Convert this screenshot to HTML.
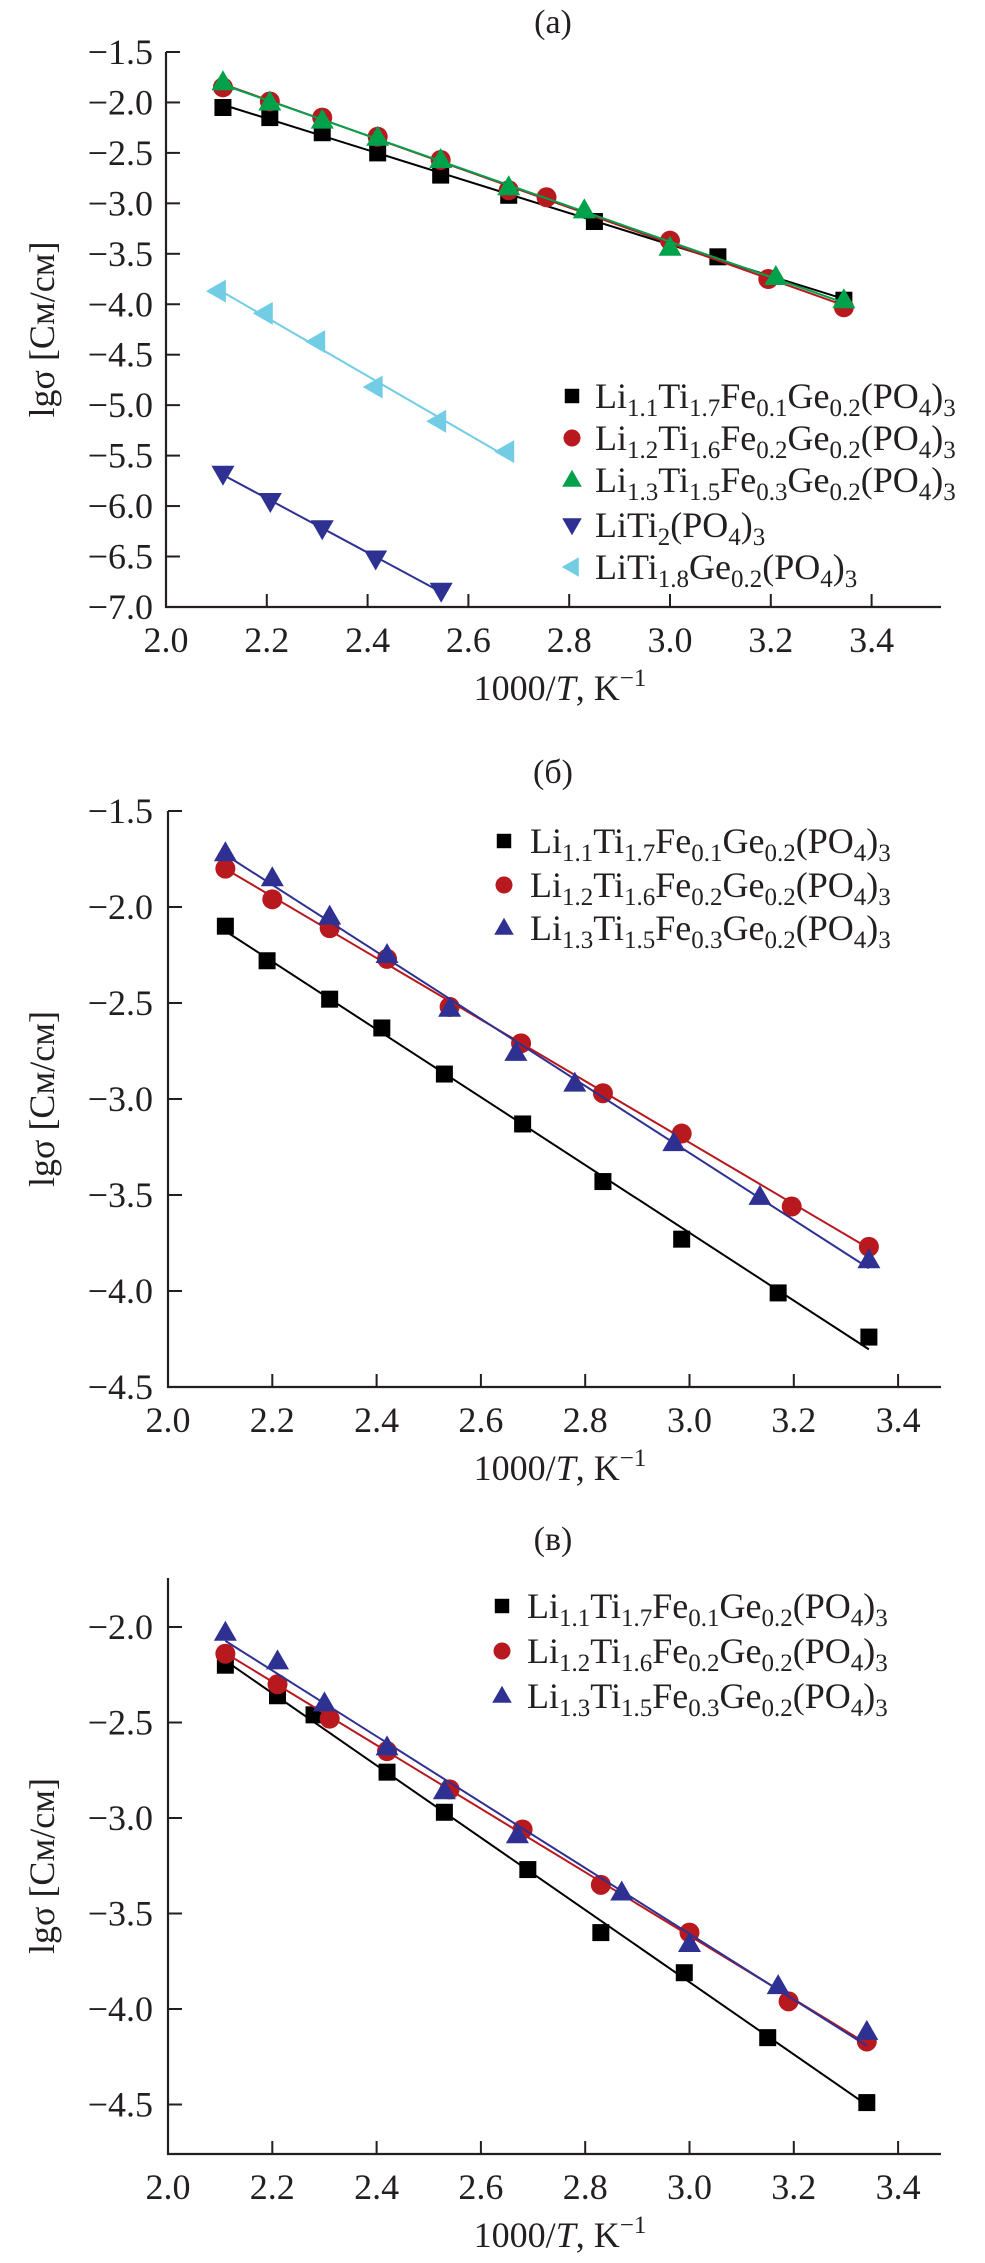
<!DOCTYPE html>
<html><head><meta charset="utf-8">
<style>
html,body{margin:0;padding:0;background:#fff;}
svg{display:block;}
text{font-family:"Liberation Serif",serif;fill:#231f20;}
</style></head>
<body>
<svg id="fig" width="985" height="2263" viewBox="0 0 985 2263" xmlns="http://www.w3.org/2000/svg"></svg>
<script>
// ---------- Panel (a) data ----------
const aBlackX = [2.113, 2.206, 2.31, 2.42, 2.545, 2.68, 2.85, 3.095, 3.345];
const aBlackY = [-2.05, -2.15, -2.30, -2.50, -2.72, -2.92, -3.18, -3.53, -3.96];
const aRedX = [2.113, 2.206, 2.31, 2.42, 2.545, 2.68, 2.755, 3.0, 3.195, 3.345];
const aRedY = [-1.85, -1.99, -2.15, -2.34, -2.57, -2.87, -2.94, -3.37, -3.75, -4.03];
const aGreenX = [2.113, 2.206, 2.31, 2.42, 2.545, 2.68, 2.83, 3.0, 3.21, 3.345];
const aGreenY = [-1.80, -2.00, -2.18, -2.35, -2.57, -2.84, -3.07, -3.44, -3.73, -3.96];
const aNavyX = [2.113, 2.207, 2.31, 2.416, 2.546];
const aNavyY = [-5.68, -5.95, -6.22, -6.52, -6.84];
const aCyanX = [2.103, 2.196, 2.30, 2.414, 2.54, 2.675];
const aCyanY = [-3.87, -4.09, -4.37, -4.82, -5.16, -5.46];
const aYTicks = [-1.5, -2.0, -2.5, -3.0, -3.5, -4.0, -4.5, -5.0, -5.5, -6.0, -6.5, -7.0];
// ---------- Panel (б) data ----------
const bBlackX = [2.11, 2.19, 2.31, 2.41, 2.53, 2.68, 2.834, 2.985, 3.17, 3.344];
const bBlackY = [-2.10, -2.28, -2.48, -2.63, -2.87, -3.13, -3.43, -3.73, -4.01, -4.24];
const bRedX = [2.11, 2.20, 2.31, 2.42, 2.54, 2.677, 2.834, 2.985, 3.196, 3.344];
const bRedY = [-1.80, -1.96, -2.11, -2.27, -2.52, -2.71, -2.97, -3.18, -3.56, -3.77];
const bBlueX = [2.11, 2.20, 2.31, 2.42, 2.54, 2.667, 2.78, 2.97, 3.135, 3.344];
const bBlueY = [-1.72, -1.85, -2.05, -2.25, -2.53, -2.76, -2.92, -3.23, -3.51, -3.84];
const bYTicks = [-1.5, -2.0, -2.5, -3.0, -3.5, -4.0, -4.5];
// ---------- Panel (в) data ----------
const cBlackX = [2.11, 2.21, 2.28, 2.42, 2.53, 2.69, 2.83, 2.99, 3.15, 3.34];
const cBlackY = [-2.20, -2.36, -2.46, -2.76, -2.97, -3.27, -3.60, -3.81, -4.15, -4.49];
const cRedX = [2.11, 2.21, 2.31, 2.42, 2.54, 2.68, 2.83, 3.0, 3.19, 3.34];
const cRedY = [-2.14, -2.30, -2.48, -2.65, -2.85, -3.06, -3.35, -3.60, -3.96, -4.17];
const cBlueX = [2.11, 2.21, 2.30, 2.42, 2.53, 2.67, 2.87, 3.0, 3.17, 3.34];
const cBlueY = [-2.03, -2.18, -2.40, -2.63, -2.86, -3.09, -3.39, -3.66, -3.88, -4.12];
const cYTicks = [-2.0, -2.5, -3.0, -3.5, -4.0, -4.5];
const xTicks = [2.0, 2.2, 2.4, 2.6, 2.8, 3.0, 3.2, 3.4];

const NS = "http://www.w3.org/2000/svg";
const svg = document.getElementById('fig');
function mk(tag, attrs, parent) {
  const e = document.createElementNS(NS, tag);
  for (const k in attrs) e.setAttribute(k, attrs[k]);
  (parent || svg).appendChild(e);
  return e;
}
const C = {black:'#000000', red:'#b8191f', green:'#00a14b', navy:'#2e3192', cyan:'#72cde4'};

function marker(g, shape, cx, cy, color, s) {
  s = s || 1;
  let e;
  if (shape === 'square') e = mk('rect', {x: cx-8.5*s, y: cy-8.5*s, width: 17*s, height: 17*s, fill: color}, g);
  else if (shape === 'circle') e = mk('circle', {cx: cx, cy: cy, r: 10*s, fill: color}, g);
  else if (shape === 'up') e = mk('polygon', {points: `${cx},${cy-12*s} ${cx+11.5*s},${cy+8*s} ${cx-11.5*s},${cy+8*s}`, fill: color}, g);
  else if (shape === 'down') e = mk('polygon', {points: `${cx},${cy+12*s} ${cx+11.5*s},${cy-8*s} ${cx-11.5*s},${cy-8*s}`, fill: color}, g);
  else if (shape === 'left') e = mk('polygon', {points: `${cx-12*s},${cy} ${cx+8*s},${cy-11.5*s} ${cx+8*s},${cy+11.5*s}`, fill: color}, g);
  return e;
}

function fit(xs, ys) {
  const n = xs.length; let sx=0, sy=0, sxx=0, sxy=0;
  for (let i=0;i<n;i++){sx+=xs[i];sy+=ys[i];sxx+=xs[i]*xs[i];sxy+=xs[i]*ys[i];}
  const b = (n*sxy - sx*sy)/(n*sxx - sx*sx);
  return {b: b, a: (sy - b*sx)/n};
}

function legendText(parent, x, y, parts) {
  const t = mk('text', {x: x, y: y, 'font-size': 36}, parent);
  parts.forEach(p => {
    const ts = mk('tspan', {}, t);
    if (p[1]) { ts.setAttribute('font-size', 25); ts.setAttribute('dy', 8); }
    else { ts.setAttribute('dy', p[2] || 0); }
    ts.textContent = p[0];
  });
  return t;
}
const LBL = {
  li11: [['Li'],['1.1',1],['Ti',0,-8],['1.7',1],['Fe',0,-8],['0.1',1],['Ge',0,-8],['0.2',1],['(PO',0,-8],['4',1],[')',0,-8],['3',1]],
  li12: [['Li'],['1.2',1],['Ti',0,-8],['1.6',1],['Fe',0,-8],['0.2',1],['Ge',0,-8],['0.2',1],['(PO',0,-8],['4',1],[')',0,-8],['3',1]],
  li13: [['Li'],['1.3',1],['Ti',0,-8],['1.5',1],['Fe',0,-8],['0.3',1],['Ge',0,-8],['0.2',1],['(PO',0,-8],['4',1],[')',0,-8],['3',1]],
  liti2: [['LiTi'],['2',1],['(PO',0,-8],['4',1],[')',0,-8],['3',1]],
  liti18: [['LiTi'],['1.8',1],['Ge',0,-8],['0.2',1],['(PO',0,-8],['4',1],[')',0,-8],['3',1]]
};

function panel(cfg) {
  const g = mk('g', {});
  
  
  const X = v => cfg.x0 + (v - 2.0) * cfg.xs;
  const Y = v => cfg.yRef + (cfg.yRefVal - v) * cfg.ys;
  // title
  const ti = mk('text', {x: 553, y: cfg.titleY, 'font-size': 34, 'text-anchor': 'middle'}, g);
  
  
  ti.textContent = cfg.title;
  // axes
  const ax = mk('path', {d: `M${cfg.x0},${cfg.yTop} V${cfg.yAxis} H${cfg.xEnd}`, stroke: '#231f20', 'stroke-width': 2.2, fill: 'none'}, g);
  
  
  cfg.yTicks.forEach(v => {
    const yy = Y(v);
    if (Math.abs(yy - cfg.yAxis) > 2) {
      const tk = mk('line', {x1: cfg.x0, x2: cfg.x0 + 14, y1: yy, y2: yy, stroke: '#231f20', 'stroke-width': 2}, g);
      
      
    }
    const tl = mk('text', {x: 153, y: yy + 12, 'font-size': 36, 'text-anchor': 'end'}, g);
    
    
    tl.textContent = '\u2212' + Math.abs(v).toFixed(1);
  });
  xTicks.forEach(v => {
    const xx = X(v);
    if (v > 2.0) {
      const tk = mk('line', {x1: xx, x2: xx, y1: cfg.yAxis, y2: cfg.yAxis - 13, stroke: '#231f20', 'stroke-width': 2}, g);
      
      
    }
    const tl = mk('text', {x: xx, y: cfg.yAxis + 45, 'font-size': 36, 'text-anchor': 'middle'}, g);
    
    
    tl.textContent = v.toFixed(1);
  });
  // axis titles
  const xt = mk('text', {x: 560, y: cfg.yAxis + 93, 'font-size': 36, 'text-anchor': 'middle'}, g);
  
  
  const t1 = mk('tspan', {}, xt); t1.textContent = '1000/';
  const t2 = mk('tspan', {'font-style': 'italic'}, xt); t2.textContent = 'T';
  const t3 = mk('tspan', {}, xt); t3.textContent = ', K';
  const t4 = mk('tspan', {'font-size': 25, dy: -14}, xt); t4.textContent = '\u22121';
  const yc = (cfg.yTop + cfg.yAxis) / 2;
  const yt = mk('text', {x: 0, y: 0, 'font-size': 36, 'text-anchor': 'middle', transform: `translate(54,${yc}) rotate(-90)`}, g);
  
  
  yt.textContent = 'lg\u03c3 [C\u043c/\u0441\u043c]';
  // series
  cfg.series.forEach(s => {
    const sg = mk('g', {}, g);
    
    
    const f = fit(s.xs, s.ys);
    const xmin = Math.min(...s.xs), xmax = Math.max(...s.xs);
    const ln = mk('line', {x1: X(xmin), y1: Y(f.a + f.b*xmin), x2: X(xmax), y2: Y(f.a + f.b*xmax), stroke: s.color, 'stroke-width': 2}, sg);
    
    
    s.xs.forEach((xv, i) => {
      const m = marker(sg, s.shape, X(xv), Y(s.ys[i]), s.color);
      
      
    });
  });
  // legend
  const lg = mk('g', {}, g);
  
  
  cfg.series.forEach((s, i) => {
    const by = cfg.legY[i];
    const eg = mk('g', {}, lg);
    
    
    marker(eg, s.shape, cfg.legMX, by - 12, s.color, 0.85);
    legendText(eg, cfg.legTX, by, LBL[s.label]);
  });
}

panel({name: 'panel-a', title: '(a)', titleY: 33, x0: 166, xs: 504, xEnd: 941, yTop: 52, yAxis: 607,
  yRef: 52, yRefVal: -1.5, ys: 100.9, yTicks: aYTicks,
  legMX: 572, legTX: 595, legY: [408, 450, 492, 537, 579],
  series: [
    {name: 'series-li11', xs: aBlackX, ys: aBlackY, color: C.black, shape: 'square', label: 'li11'},
    {name: 'series-li12', xs: aRedX, ys: aRedY, color: C.red, shape: 'circle', label: 'li12'},
    {name: 'series-li13', xs: aGreenX, ys: aGreenY, color: C.green, shape: 'up', label: 'li13'},
    {name: 'series-liti2', xs: aNavyX, ys: aNavyY, color: C.navy, shape: 'down', label: 'liti2'},
    {name: 'series-liti18ge', xs: aCyanX, ys: aCyanY, color: C.cyan, shape: 'left', label: 'liti18'}
  ]});
panel({name: 'panel-b', title: '(\u0431)', titleY: 783, x0: 168, xs: 521.5, xEnd: 941, yTop: 811, yAxis: 1387,
  yRef: 811, yRefVal: -1.5, ys: 192, yTicks: bYTicks,
  legMX: 504, legTX: 530, legY: [853, 897, 940],
  series: [
    {name: 'series-li11', xs: bBlackX, ys: bBlackY, color: C.black, shape: 'square', label: 'li11'},
    {name: 'series-li12', xs: bRedX, ys: bRedY, color: C.red, shape: 'circle', label: 'li12'},
    {name: 'series-li13', xs: bBlueX, ys: bBlueY, color: C.navy, shape: 'up', label: 'li13'}
  ]});
panel({name: 'panel-c', title: '(\u0432)', titleY: 1550, x0: 168, xs: 521.5, xEnd: 941, yTop: 1578, yAxis: 2154,
  yRef: 1627, yRefVal: -2.0, ys: 191, yTicks: cYTicks,
  legMX: 502, legTX: 527, legY: [1618, 1663, 1708],
  series: [
    {name: 'series-li11', xs: cBlackX, ys: cBlackY, color: C.black, shape: 'square', label: 'li11'},
    {name: 'series-li12', xs: cRedX, ys: cRedY, color: C.red, shape: 'circle', label: 'li12'},
    {name: 'series-li13', xs: cBlueX, ys: cBlueY, color: C.navy, shape: 'up', label: 'li13'}
  ]});
</script>
</body></html>
